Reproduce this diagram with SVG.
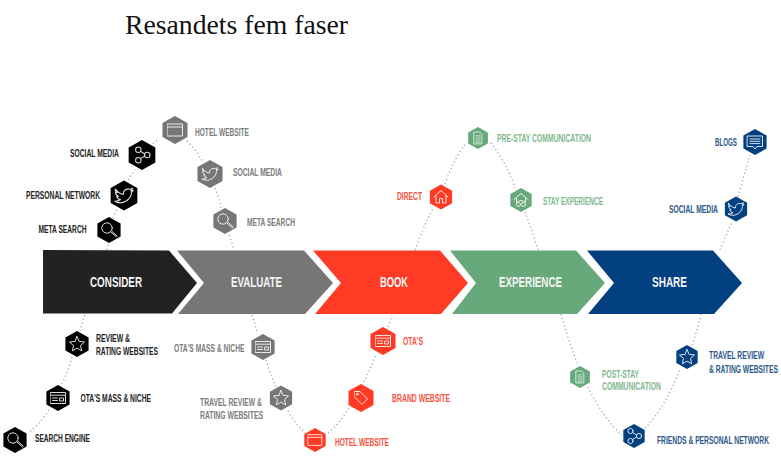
<svg xmlns="http://www.w3.org/2000/svg" width="781" height="469" viewBox="0 0 781 469">
<style>
text{font-family:"Liberation Sans Narrow","Liberation Sans",Arial,sans-serif;font-weight:700;font-size:10.5px}
.title{font-family:"Liberation Serif","Times New Roman",serif;font-weight:400;font-size:28px;fill:#111}
.stage{font-size:15.5px;fill:#f4f4f4}
.k text{fill:#222}.k .h{fill:#000}
.g text{fill:#7c7c7c}.g .h{fill:#767676}
.r text{fill:#f8523d}.r .h{fill:#ff3b26}
.e text{fill:#7fb88f}.e .h{fill:#67a97a}
.b text{fill:#2c5789}.b .h{fill:#03407f}
.i{fill:none;stroke:#fff;stroke-width:1;stroke-linejoin:round;stroke-linecap:round;opacity:.85}
#connectors path{fill:none;stroke:#a9a9a9;stroke-width:1.3;stroke-dasharray:1.3 2.6}
</style>
<defs>
<polygon id="hex" points="0,-13 11.6,-6.5 11.6,6.5 0,13 -11.6,6.5 -11.6,-6.5"/>
<g id="i-web" class="i"><rect x="-7.5" y="-6" width="15" height="12"/><path d="M-7.5-3H7.5"/></g>
<g id="i-share" class="i"><circle cx="-3.5" cy="-5" r="2.6"/><circle cx="-3.5" cy="5" r="2.6"/><circle cx="5" cy="0" r="2.6"/><path d="M-1.3-3.5 2.6-1M-1.3 3.5 2.6 1"/></g>
<path id="i-bird" class="i" d="M-7.5-5.5C-5-2.5-2.5-1-.5-1-.8-4 1.500-6 4-5.500 5-5.200 6-5.800 7.500-6.300L6-4 8-4.500 6.500-2.800C6.500 3-1 9-8 5-5.500 5-4.200 4.500-3 3.500-5 3.300-6 2-6.300 1-5.800 1-5.300 1-4.800.8-6.500 0-7.500-1.500-7.300-3-6.800-2.800-6.300-2.600-5.800-2.600-7.300-3.500-8-4.500-7.500-5.500Z"/>
<g id="i-search" class="i"><circle cx="-2" cy="-2" r="5.200"/><path d="M1.800 1.800 7.500 7M2.800 1.200 8.200 6.200"/></g>
<path id="i-star" class="i" d="M0-7.500 2.200-2.600 7.500-2 3.500 1.500 4.600 6.800 0 4.100-4.600 6.800-3.500 1.500-7.500-2-2.200-2.600Z"/>
<g id="i-card" class="i"><rect x="-7.500" y="-5.500" width="15" height="11"/><path d="M-7.500-2.800H7.500M-5.500 0H-.5M-5.500 2.500H-.5M2 0H5.500V3H2Z"/></g>
<g id="i-tag" class="i"><path d="M-6.500-6.500H-1L6.500 1 1 6.500-6.500-1Z"/><circle cx="-3.800" cy="-3.800" r="1"/></g>
<path id="i-home" class="i" d="M-7 0 0-6.500 7 0M-5-1.500V6H-1.500V1.500H1.500V6H5V-1.500"/>
<g id="i-doc" class="i"><path d="M-4.500-7H2L4.500-4.500V7H-4.500ZM-2.500-2.500H2.500M-2.500 0H2.500M-2.500 2.500H2.500M-2.500 5H2.500"/></g>
<g id="i-stay" class="i"><path d="M-7-.5 0-6.500 7-.5M-4.500-2V2M4.500-2V2M-4.500 2Q0-1 4.500 2"/><circle cx="-2.500" cy="4.500" r="2"/><circle cx="2.500" cy="4.500" r="2"/></g>
<g id="i-chat" class="i"><path d="M-7.500-6H7.500V4.500H2L0 7-2 4.500H-7.500ZM-5-3H5M-5-.7H5M-5 1.600H5"/></g>
</defs>
<rect width="781" height="469" fill="#fff"/>
<text class="title" x="125" y="34" textLength="223" lengthAdjust="spacingAndGlyphs">Resandets fem faser</text>

<g id="connectors">
<path d="M107 250Q108 245 109 243M113 218Q115 214 117 209M128 180Q131 175 135 170M150 146Q154 143 159 139"/>
<path d="M187 141Q196 150 203 162M215 188Q219 198 221 208M229 235Q232 243 234 250"/>
<path d="M85 315Q82 323 80 331M72 357Q68 371 62 384M49 410Q40 424 28 433"/>
<path d="M252 315Q255 325 258 334M266 360Q270 374 276 387M288 411Q295 423 305 433"/>
<path d="M328 433Q340 423 349 408M364 382Q370 369 376 355M388 327Q390 321 392 315"/>
<path d="M415 250Q423 228 433 208M445 184Q453 160 466 143M491 143Q506 162 515 188M525 212Q532 230 538 250"/>
<path d="M561 314Q568 340 578 365M588 387Q603 418 622 435M645 428Q665 408 680 369M692 345Q697 332 701 314"/>
<path d="M720 250Q726 235 732 222M738 197Q744 175 750 155"/>
</g>

<g id="stage-consider"><polygon fill="#222" points="43,250 169,250.500 197,283 172,313.500 43,313.500"/><text class="stage" x="90" y="286.500" textLength="52" lengthAdjust="spacingAndGlyphs">CONSIDER</text></g>
<g id="stage-evaluate"><polygon fill="#767676" points="177,250.500 304,250.500 333,283 305,314 178,314 204,283"/><text class="stage" x="231" y="286.500" textLength="51" lengthAdjust="spacingAndGlyphs">EVALUATE</text></g>
<g id="stage-book"><polygon fill="#ff3b26" points="313,250.500 440,250.500 468,283 441,314 315,314 341,283"/><text class="stage" x="380" y="286.500" textLength="28" lengthAdjust="spacingAndGlyphs">BOOK</text></g>
<g id="stage-experience"><polygon fill="#67a97a" points="450,250.500 576,250.500 605,283 577,314 452,314 476,283"/><text class="stage" x="499" y="286.500" textLength="63" lengthAdjust="spacingAndGlyphs">EXPERIENCE</text></g>
<g id="stage-share"><polygon fill="#03407f" points="587,250.500 713,250.500 742,283 714,314 588,314 614,283"/><text class="stage" x="652" y="286.500" textLength="35" lengthAdjust="spacingAndGlyphs">SHARE</text></g>

<g id="consider-social" class="k"><use href="#hex" class="h" transform="translate(142 155) scale(1.150)"/><use href="#i-share" transform="translate(142 155) scale(1.050)"/><text x="70" y="157" textLength="49" lengthAdjust="spacingAndGlyphs">SOCIAL MEDIA</text></g>
<g id="consider-personal" class="k"><use href="#hex" class="h" transform="translate(124 195.500) scale(1.150)"/><use href="#i-bird" transform="translate(124 195.500) scale(1.150)"/><text x="26" y="199" textLength="74" lengthAdjust="spacingAndGlyphs">PERSONAL NETWORK</text></g>
<g id="consider-meta" class="k"><use href="#hex" class="h" transform="translate(109 230)"/><use href="#i-search" transform="translate(109 230)"/><text x="38.500" y="233" textLength="48" lengthAdjust="spacingAndGlyphs">META SEARCH</text></g>
<g id="consider-review" class="k"><use href="#hex" class="h" transform="translate(77 344)"/><use href="#i-star" transform="translate(77 344)"/><text x="96" y="342" textLength="34" lengthAdjust="spacingAndGlyphs">REVIEW &amp;</text><text x="96" y="355" textLength="62" lengthAdjust="spacingAndGlyphs">RATING WEBSITES</text></g>
<g id="consider-ota" class="k"><use href="#hex" class="h" transform="translate(58 398)"/><use href="#i-card" transform="translate(58 398)"/><text x="80.500" y="402" textLength="70.500" lengthAdjust="spacingAndGlyphs">OTA'S MASS &amp; NICHE</text></g>
<g id="consider-engine" class="k"><use href="#hex" class="h" transform="translate(15 440)"/><use href="#i-search" transform="translate(15 440)"/><text x="35" y="442" textLength="55" lengthAdjust="spacingAndGlyphs">SEARCH ENGINE</text></g>

<g id="evaluate-hotel" class="g"><use href="#hex" class="h" transform="translate(175 130) scale(1.080)"/><use href="#i-web" transform="translate(175 130)"/><text x="195" y="136" textLength="54" lengthAdjust="spacingAndGlyphs">HOTEL WEBSITE</text></g>
<g id="evaluate-social" class="g"><use href="#hex" class="h" transform="translate(210 174) scale(1.080)"/><use href="#i-bird" transform="translate(210 174)"/><text x="233" y="176" textLength="49" lengthAdjust="spacingAndGlyphs">SOCIAL MEDIA</text></g>
<g id="evaluate-meta" class="g"><use href="#hex" class="h" transform="translate(225 221)"/><use href="#i-search" transform="translate(225 221)"/><text x="247" y="226" textLength="48" lengthAdjust="spacingAndGlyphs">META SEARCH</text></g>
<g id="evaluate-ota" class="g"><use href="#hex" class="h" transform="translate(263 347)"/><use href="#i-card" transform="translate(263 347)"/><text transform="matrix(.76 0 0 1 174 352)" textLength="92.800" lengthAdjust="spacingAndGlyphs">OTA'S MASS &amp; NICHE</text></g>
<g id="evaluate-travel" class="g"><use href="#hex" class="h" transform="translate(281 398) scale(.96)"/><use href="#i-star" transform="translate(281 398)"/><text x="200" y="406" textLength="62" lengthAdjust="spacingAndGlyphs">TRAVEL REVIEW &amp;</text><text x="200" y="418.500" textLength="63" lengthAdjust="spacingAndGlyphs">RATING WEBSITES</text></g>

<g id="book-hotel" class="r"><use href="#hex" class="h" transform="translate(315 440) scale(.92)"/><use href="#i-web" transform="translate(315 440) scale(.9)"/><text x="335" y="446" textLength="54" lengthAdjust="spacingAndGlyphs">HOTEL WEBSITE</text></g>
<g id="book-brand" class="r"><use href="#hex" class="h" transform="translate(361 398) scale(1.080)"/><use href="#i-tag" transform="translate(361 398)"/><text x="392" y="402" textLength="58" lengthAdjust="spacingAndGlyphs">BRAND WEBSITE</text></g>
<g id="book-ota" class="r"><use href="#hex" class="h" transform="translate(383 341) scale(1.080)"/><use href="#i-card" transform="translate(383 341)"/><text x="403" y="345" textLength="20" lengthAdjust="spacingAndGlyphs">OTA'S</text></g>
<g id="book-direct" class="r"><use href="#hex" class="h" transform="translate(441 197) scale(.96)"/><use href="#i-home" transform="translate(441 197)"/><text x="397" y="200" textLength="25" lengthAdjust="spacingAndGlyphs">DIRECT</text></g>

<g id="experience-pre" class="e"><use href="#hex" class="h" transform="translate(478 138) scale(.85)"/><use href="#i-doc" transform="translate(478 138) scale(.85)"/><text x="497" y="142" textLength="94" lengthAdjust="spacingAndGlyphs">PRE-STAY COMMUNICATION</text></g>
<g id="experience-stay" class="e"><use href="#hex" class="h" transform="translate(521 200) scale(.92)"/><use href="#i-stay" transform="translate(521 200)"/><text x="543" y="205" textLength="60" lengthAdjust="spacingAndGlyphs">STAY EXPERIENCE</text></g>
<g id="experience-post" class="e"><use href="#hex" class="h" transform="translate(580 377) scale(.85)"/><use href="#i-doc" transform="translate(580 377) scale(.85)"/><text x="602" y="378" textLength="37" lengthAdjust="spacingAndGlyphs">POST-STAY</text><text x="602" y="390" textLength="59" lengthAdjust="spacingAndGlyphs">COMMUNICATION</text></g>

<g id="share-blogs" class="b"><use href="#hex" class="h" transform="translate(755 142)"/><use href="#i-chat" transform="translate(755 142)"/><text x="715" y="146" textLength="22" lengthAdjust="spacingAndGlyphs">BLOGS</text></g>
<g id="share-social" class="b"><use href="#hex" class="h" transform="translate(736 209) scale(.96)"/><use href="#i-bird" transform="translate(736 209)"/><text x="669" y="213" textLength="49" lengthAdjust="spacingAndGlyphs">SOCIAL MEDIA</text></g>
<g id="share-travel" class="b"><use href="#hex" class="h" transform="translate(687 357) scale(.92)"/><use href="#i-star" transform="translate(687 357)"/><text transform="matrix(.76 0 0 1 709 359)" textLength="72.400" lengthAdjust="spacingAndGlyphs">TRAVEL REVIEW</text><text transform="matrix(.7 0 0 1 709 372.500)" textLength="98.500" lengthAdjust="spacingAndGlyphs">&amp; RATING WEBSITES</text></g>
<g id="share-friends" class="b"><use href="#hex" class="h" transform="translate(634 436) scale(.92)"/><use href="#i-share" transform="translate(634 436)"/><text transform="matrix(.72 0 0 1 657 444)" textLength="155.600" lengthAdjust="spacingAndGlyphs">FRIENDS &amp; PERSONAL NETWORK</text></g>
</svg>
